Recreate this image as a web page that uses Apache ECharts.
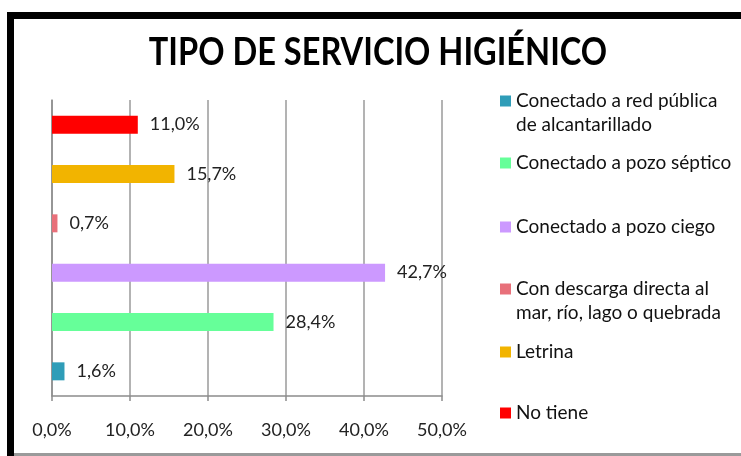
<!DOCTYPE html>
<html lang="es" style="height: 100%;width: 100%">
<head>
    <meta charset="utf-8">
</head>
<body style="height: 100%;width: 100%; margin: 0; background: #fff">
<div id="container" style="width: 741px; height: 456px;"></div>
<script type="text/javascript" src="https://cdn.jsdelivr.net/npm/echarts@6/dist/echarts.min.js"></script>
<script type="text/javascript">
    // datos (de abajo hacia arriba)
    var categorias = [
        'Conectado a red pública\nde alcantarillado',
        'Conectado a pozo séptico',
        'Conectado a pozo ciego',
        'Con descarga directa al\nmar, río, lago o quebrada',
        'Letrina',
        'No tiene'
    ];
    var valores = [1.6, 28.4, 42.7, 0.7, 15.7, 11.0];
    var colores = ['#2f9db8', '#66ff99', '#cc99ff', '#e8707a', '#f2b400', '#ff0000'];
    var titulo = 'TIPO DE SERVICIO HIGIÉNICO';

    // centro vertical de la primera linea de cada leyenda
    var legendCentros = [101, 163, 227, 289, 352, 413];

    function pct(v) {
        return v.toFixed(1).replace('.', ',') + '%';
    }

    var dom = document.getElementById('container');
    var myChart = echarts.init(dom, null, {renderer: 'canvas'});

    var series = categorias.map(function (nombre, i) {
        return {
            name: nombre,
            type: 'bar',
            stack: 'total',
            barWidth: 18,
            animation: false,
            itemStyle: {color: colores[i]},
            label: {
                show: true,
                position: 'right',
                distance: 12,
                color: '#222',
                fontSize: 18,
                fontFamily: 'Lato',
                formatter: function (p) { return pct(p.value); }
            },
            data: valores.map(function (v, j) { return j === i ? v : '-'; })
        };
    });

    var legends = categorias.map(function (nombre, i) {
        var dosLineas = nombre.indexOf('\n') >= 0;
        return {
            data: [nombre],
            left: 500,
            // una linea vacia arriba deja el icono junto a la primera linea
            top: legendCentros[i] - (dosLineas ? 36 : 12),
            padding: 0,
            icon: 'rect',
            itemWidth: 11,
            itemHeight: 11,
            itemGap: 0,
            selectedMode: false,
            formatter: function (n) { return dosLineas ? '\n' + n : n; },
            textStyle: {
                fontFamily: 'Lato',
                fontSize: 19,
                color: '#111',
                lineHeight: 24
            }
        };
    });

    var option = {
        backgroundColor: '#fff',
        animation: false,
        legend: legends,
        grid: {left: 52, right: 299, top: 100, bottom: 60},
        xAxis: {
            type: 'value',
            min: 0,
            max: 50,
            interval: 10,
            axisLine: {show: true, lineStyle: {color: '#8c8c8c', width: 1.5}},
            axisTick: {show: true, length: 5, lineStyle: {color: '#8c8c8c', width: 1.5}},
            splitLine: {show: true, lineStyle: {color: '#9a9a9a', width: 1.5}},
            axisLabel: {
                margin: 25,
                fontFamily: 'Lato',
                fontSize: 18,
                color: '#222',
                formatter: function (v) { return pct(v); }
            }
        },
        yAxis: {
            type: 'category',
            data: categorias,
            axisLine: {show: true, lineStyle: {color: '#8c8c8c', width: 1.5}},
            axisTick: {show: false},
            axisLabel: {show: false}
        },
        graphic: [
            {
                type: 'text',
                x: 378,
                y: 52,
                scaleX: 0.835,
                style: {
                    text: titulo,
                    fontFamily: 'Lato',
                    fontWeight: 'bold',
                    fontSize: 39,
                    fill: '#000',
                    align: 'center',
                    verticalAlign: 'middle'
                }
            },
            {
                type: 'polyline',
                shape: {points: [[10.5, 470], [10.5, 15.5], [760, 15.5]]},
                style: {stroke: '#000', lineWidth: 7, fill: null}
            },
            {
                type: 'rect',
                shape: {x: 14, y: 453, width: 727, height: 3},
                style: {fill: '#9a9a9a'}
            }
        ],
        series: series
    };
    myChart.setOption(option);
</script>
</body>
</html>
